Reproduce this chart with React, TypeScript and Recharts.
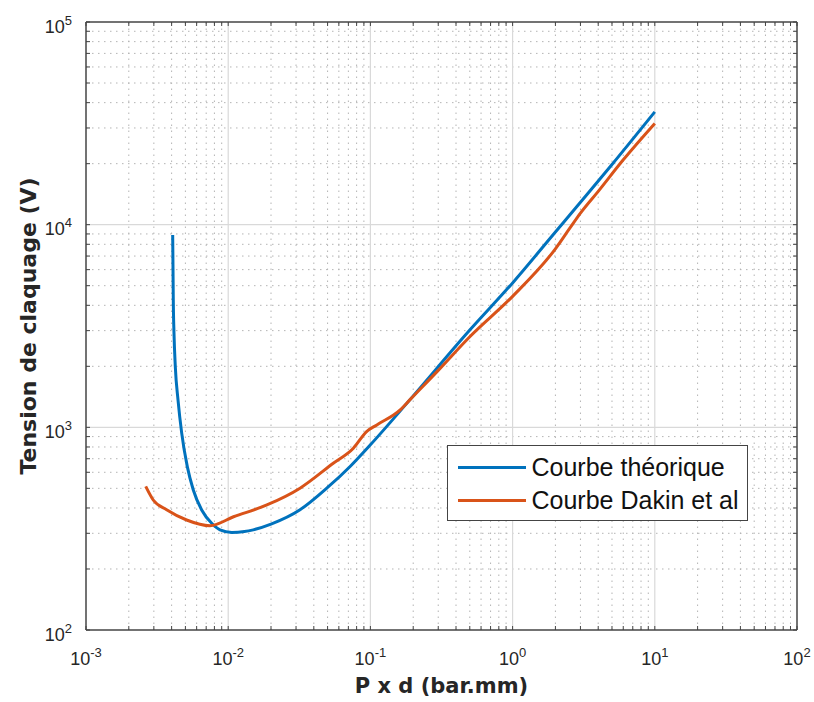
import React from 'react';
import { LineChart, Line, XAxis, YAxis, ReferenceLine, Legend } from 'recharts';

// Courbe théorique (Paschen) — P x d en bar.mm, tension en V
const PD_THEO = [
  0.00407, 0.00409, 0.00411, 0.004157, 0.004246, 0.004436, 0.00471, 0.005157, 0.005683,
  0.00651, 0.007655, 0.008757, 0.0106, 0.013, 0.015, 0.02, 0.032, 0.05, 0.072, 0.1, 0.19,
  0.5, 1, 2, 3, 5, 10,
];
const V_THEO = [
  8900, 6225, 4262, 2919, 1996, 1367, 936, 640, 491, 391, 336, 312, 303, 306, 312, 333, 392,
  505, 641, 820, 1370, 3020, 5160, 9200, 12900, 19800, 36000,
];

// Courbe Dakin et al
const PD_DAKIN = [
  0.00263, 0.00297, 0.00369, 0.0051, 0.00745, 0.0109, 0.0187, 0.032, 0.0548, 0.0759, 0.094,
  0.111, 0.162, 0.19, 0.3, 0.5, 1, 2, 2.54, 3, 4, 6, 10,
];
const V_DAKIN = [
  511, 438, 392, 349, 327, 362, 414, 501, 665, 789, 953, 1028, 1219, 1370, 1910, 2800, 4430,
  7600, 9660, 11400, 14600, 20900, 31600,
];

const SERIES_NAMES = ['Courbe théorique', 'Courbe Dakin et al'];
const SERIES_COLORS = ['#0072BD', '#D95319'];

const X_DECADES = [1e-3, 1e-2, 1e-1, 1, 10, 100];
const Y_DECADES = [1e2, 1e3, 1e4, 1e5];
const MINOR_MULT = [2, 3, 4, 5, 6, 7, 8, 9];

const minorsOf = (decades: number[]) =>
  decades.slice(0, -1).flatMap((d) => MINOR_MULT.map((m) => +(m * d).toPrecision(6)));

const X_MINOR = minorsOf(X_DECADES);
const Y_MINOR = minorsOf(Y_DECADES);
const X_TICKS = [...X_DECADES, ...X_MINOR].sort((a, b) => a - b);
const Y_TICKS = [...Y_DECADES, ...Y_MINOR].sort((a, b) => a - b);

const theoData = PD_THEO.map((x, i) => ({ x, y: V_THEO[i] }));
const dakinData = PD_DAKIN.map((x, i) => ({ x, y: V_DAKIN[i] }));

const AXIS = '#444';
const TEXT = '#262626';
const FONT = '"Liberation Sans", Arial, sans-serif';
const TICK_LEN = 4;

const isMajor = (v: number) => {
  const l = Math.log10(v);
  return Math.abs(l - Math.round(l)) < 1e-9;
};
const expOf = (v: number) => String(Math.round(Math.log10(v)));

function PowerLabel({ x, y, v, anchor }: any) {
  return (
    <text x={x} y={y} textAnchor={anchor} fontFamily={FONT} fill={TEXT} fontSize={18}>
      <tspan>10</tspan>
      <tspan dy={-8} fontSize={13}>
        {expOf(v)}
      </tspan>
    </text>
  );
}

function BottomTick({ x, y, payload }: any) {
  const v = payload.value;
  return (
    <g>
      <line x1={x} x2={x} y1={y} y2={y - TICK_LEN} stroke={AXIS} strokeWidth={1} />
      {isMajor(v) && <PowerLabel x={x} y={y + 35} v={v} anchor="middle" />}
    </g>
  );
}

function TopTick({ x, y }: any) {
  return <line x1={x} x2={x} y1={y} y2={y + TICK_LEN} stroke={AXIS} strokeWidth={1} />;
}

function LeftTick({ x, y, payload }: any) {
  const v = payload.value;
  return (
    <g>
      <line x1={x} x2={x + TICK_LEN} y1={y} y2={y} stroke={AXIS} strokeWidth={1} />
      {isMajor(v) && <PowerLabel x={x - 14} y={y + 10.5} v={v} anchor="end" />}
    </g>
  );
}

function RightTick({ x, y }: any) {
  return <line x1={x} x2={x - TICK_LEN} y1={y} y2={y} stroke={AXIS} strokeWidth={1} />;
}

function XTitle({ viewBox }: any) {
  const vb = viewBox || { x: 86, y: 630, width: 711 };
  return (
    <text
      x={vb.x + vb.width / 2}
      y={vb.y + 63}
      textAnchor="middle"
      fontFamily='"DejaVu Sans", sans-serif'
      fontWeight="bold"
      fontSize={21}
      fill={TEXT}
    >
      P x d (bar.mm)
    </text>
  );
}

function YTitle({ viewBox }: any) {
  const vb = viewBox || { x: 26, y: 22, height: 608 };
  const cx = vb.x + 10;
  const cy = vb.y + vb.height / 2;
  return (
    <text
      x={cx}
      y={cy}
      transform={`rotate(-90, ${cx}, ${cy})`}
      textAnchor="middle"
      fontFamily='"DejaVu Sans", sans-serif'
      fontWeight="bold"
      fontSize={22}
      fill={TEXT}
    >
      Tension de claquage (V)
    </text>
  );
}

function LegendBox({ payload }: any) {
  const items = [...(payload || [])].sort(
    (a: any, b: any) => SERIES_NAMES.indexOf(a.value) - SERIES_NAMES.indexOf(b.value)
  );
  return (
    <div
      style={{
        width: 301,
        height: 76,
        boxSizing: 'border-box',
        border: `1.5px solid ${AXIS}`,
        background: '#fff',
        paddingTop: 5,
        fontFamily: FONT,
        fontSize: 25,
        color: '#111',
      }}
    >
      {items.map((entry: any) => (
        <div key={entry.value} style={{ display: 'flex', alignItems: 'center', height: 33 }}>
          <span
            style={{
              display: 'inline-block',
              width: 68,
              height: 3.5,
              background: entry.color,
              marginLeft: 9.5,
              marginRight: 6,
            }}
          />
          <span style={{ whiteSpace: 'nowrap' }}>{entry.value}</span>
        </div>
      ))}
    </div>
  );
}

export default function App() {
  return (
    <div style={{ position: 'absolute', left: 0, top: 0, width: 814, height: 702, background: '#fff' }}>
      <LineChart width={814} height={702} margin={{ top: 21, right: 16, bottom: 32, left: 26 }}>
        <XAxis
          dataKey="x"
          type="number"
          scale="log"
          domain={[1e-3, 1e2]}
          allowDataOverflow
          ticks={X_TICKS}
          interval={0}
          tickSize={0}
          tickMargin={0}
          tickLine={false}
          tick={<BottomTick />}
          axisLine={{ stroke: AXIS, strokeWidth: 1.5 }}
          height={40}
          label={<XTitle />}
        />
        <XAxis
          xAxisId="top"
          orientation="top"
          dataKey="x"
          type="number"
          scale="log"
          domain={[1e-3, 1e2]}
          allowDataOverflow
          ticks={X_TICKS}
          interval={0}
          tickSize={0}
          tickMargin={0}
          tickLine={false}
          tick={<TopTick />}
          axisLine={{ stroke: AXIS, strokeWidth: 1.5 }}
          height={1}
        />
        <YAxis
          dataKey="y"
          type="number"
          scale="log"
          domain={[1e2, 1e5]}
          allowDataOverflow
          ticks={Y_TICKS}
          interval={0}
          tickSize={0}
          tickMargin={0}
          tickLine={false}
          tick={<LeftTick />}
          axisLine={{ stroke: AXIS, strokeWidth: 1.5 }}
          width={60}
          label={<YTitle />}
        />
        <YAxis
          yAxisId="right"
          orientation="right"
          dataKey="y"
          type="number"
          scale="log"
          domain={[1e2, 1e5]}
          allowDataOverflow
          ticks={Y_TICKS}
          interval={0}
          tickSize={0}
          tickMargin={0}
          tickLine={false}
          tick={<RightTick />}
          axisLine={{ stroke: AXIS, strokeWidth: 1.5 }}
          width={1}
        />

        {/* minor grid, dotted */}
        {X_MINOR.map((v) => (
          <ReferenceLine key={`xm${v}`} x={v} stroke="#b4b4b4" strokeDasharray="1.5 4.5" />
        ))}
        {Y_MINOR.map((v) => (
          <ReferenceLine key={`ym${v}`} y={v} stroke="#b4b4b4" strokeDasharray="1.5 4.5" />
        ))}
        {/* major grid */}
        {X_DECADES.slice(1, -1).map((v) => (
          <ReferenceLine key={`xM${v}`} x={v} stroke="#d9d9d9" strokeWidth={1.2} />
        ))}
        {Y_DECADES.slice(1, -1).map((v) => (
          <ReferenceLine key={`yM${v}`} y={v} stroke="#d9d9d9" strokeWidth={1.2} />
        ))}

        <Line
          data={theoData}
          dataKey="y"
          name={SERIES_NAMES[0]}
          type="monotone"
          stroke={SERIES_COLORS[0]}
          strokeWidth={3}
          dot={false}
          isAnimationActive={false}
        />
        <Line
          data={dakinData}
          dataKey="y"
          name={SERIES_NAMES[1]}
          type="monotone"
          stroke={SERIES_COLORS[1]}
          strokeWidth={3}
          dot={false}
          isAnimationActive={false}
        />

        <Legend
          layout="vertical"
          align="center"
          verticalAlign="middle"
          content={<LegendBox />}
          wrapperStyle={{ left: 447, top: 445, width: 301, height: 76 }}
        />
      </LineChart>
    </div>
  );
}
